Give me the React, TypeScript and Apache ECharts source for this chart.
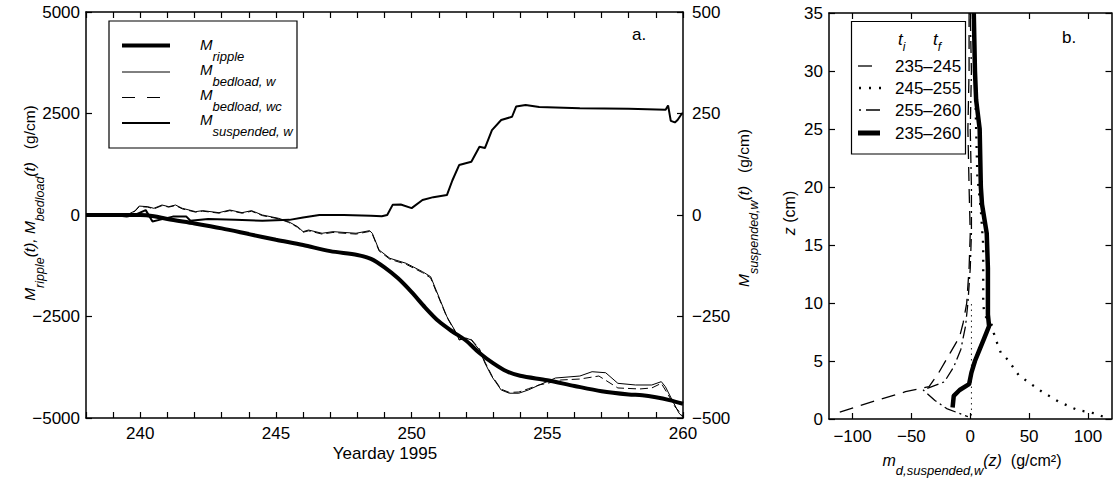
import React, { useEffect, useRef } from "react";
import * as echarts from "echarts";

const FONT = "'Liberation Sans', Arial, Helvetica, sans-serif";

// ---------- Panel a data (Yearday 1995) ----------
const rippleDay = [238, 239, 240, 240.5, 241, 242, 243, 244, 245, 246, 247, 248, 248.5, 249, 249.5, 250, 250.5, 251, 251.5, 252, 252.5, 253, 253.5, 254, 255, 256, 257, 258, 258.5, 259, 259.5, 260];
const rippleVal = [0, 0, 0, -30, -100, -210, -330, -470, -610, -740, -890, -985, -1080, -1290, -1560, -1900, -2280, -2620, -2870, -3090, -3400, -3650, -3850, -3960, -4070, -4210, -4340, -4420, -4440, -4490, -4560, -4650];

const bedWDay = [238, 239.5, 239.8, 239.96, 240.27, 240.5, 240.8, 241.05, 241.3, 241.55, 242.04, 242.3, 242.9, 243.3, 243.75, 244.1, 244.5, 245.1, 245.46, 245.8, 246.0, 246.2, 246.7, 247.1, 247.95, 248.45, 248.55, 248.8, 249.2, 249.8, 250.4, 250.7, 250.9, 251.3, 251.65, 251.75, 252.0, 252.2, 252.5, 252.7, 252.96, 253.3, 253.6, 253.95, 254.3, 254.7, 255.3, 256.2, 256.65, 257.15, 257.6, 258.25, 258.85, 259.2, 259.35, 259.6, 259.85, 260];
const bedWVal = [0, 0, 100, 220, 205, 165, 246, 205, 246, 165, 82, 107, 57, 123, 57, 107, 0, -82, -164, -287, -410, -370, -450, -410, -450, -386, -450, -862, -1067, -1190, -1396, -1519, -1847, -2505, -2910, -3079, -3030, -3079, -3325, -3645, -3983, -4310, -4390, -4390, -4310, -4187, -4015, -3966, -3860, -3885, -4146, -4187, -4187, -4105, -4228, -4557, -4877, -4980];

const bedWCDay = [238, 239.5, 239.8, 239.96, 240.27, 240.5, 240.8, 241.05, 241.3, 241.55, 242.04, 242.3, 242.9, 243.3, 243.75, 244.1, 244.5, 245.1, 245.46, 245.8, 246.0, 246.2, 246.7, 247.1, 247.95, 248.45, 248.55, 248.8, 249.2, 249.8, 250.4, 250.7, 250.9, 251.3, 251.65, 251.75, 252.0, 252.2, 252.5, 252.7, 252.96, 253.3, 253.6, 253.95, 254.3, 254.7, 255.0, 255.5, 256.2, 256.9, 257.6, 258.4, 258.85, 259.2, 259.45, 259.7, 260];
const bedWCVal = [0, 0, 90, 205, 195, 150, 230, 195, 232, 150, 70, 95, 45, 108, 45, 92, -15, -95, -180, -305, -425, -390, -470, -430, -470, -405, -470, -885, -1090, -1215, -1420, -1550, -1880, -2520, -2925, -3070, -3050, -3065, -3300, -3620, -3960, -4290, -4370, -4360, -4280, -4185, -4146, -4064, -4040, -3966, -4260, -4285, -4260, -4146, -4420, -4720, -4950];

const suspDay = [238, 239, 239.5, 239.8, 240.2, 240.45, 240.7, 241.2, 241.7, 241.85, 242.5, 243.5, 244.5, 245.5, 246, 246.6, 247.5, 248.5, 248.9, 249.1, 249.3, 249.6, 250.0, 250.4, 250.8, 251.3, 251.5, 251.75, 252.2, 252.5, 252.7, 252.96, 253.3, 253.7, 253.85, 254.2, 254.7, 256.2, 258, 259.36, 259.45, 259.55, 259.7, 259.8, 259.96, 260];
const suspVal = [0, 0, -4, 0, 12, -16, -12, -4, -4, -14, -10, -12, -14, -12, -6, 0, 0, -2, -3, 0, 25, 26, 17, 37, 44, 49, 85, 123, 131, 168, 165, 209, 234, 242, 267, 271, 266, 263, 262, 259, 270, 232, 228, 234, 250, 250];

const leftTicks = [-5000, -2500, 0, 2500, 5000];
const rightTicks = [-500, -250, 0, 250, 500];
const dayLabels = [240, 245, 250, 255, 260];

// ---------- Panel b data (profiles vs z) ----------
const zTotal = [35, 30, 27.5, 25, 20, 18.5, 16, 13, 9, 8, 7, 6, 5, 4, 3, 2.5, 2, 1];
const mTotal = [3, 4, 5, 8, 9, 10, 14, 15, 15, 16, 12, 8, 4, 1, -1, -9, -14, -15];
const z235 = [35, 30, 25, 20, 16, 13, 10, 8.3, 7.1, 5.7, 3.95, 2.8, 2.35, 1.5, 0.5];
const m235 = [-1, -1, -2, -1, 0, -1, -3, -6, -9, -17, -27, -35, -55, -83, -114];
const z245 = [35, 30, 25, 21, 18, 15, 12, 10, 9, 8, 7.4, 6.5, 5.7, 5.1, 3.8, 3.2, 2.35, 1.5, 0.78, 0.5, 0.2];
const m245 = [3, 4, 5, 6, 9, 11, 11, 11, 12, 19, 20, 23, 26, 32, 41, 49, 61, 75, 91, 105, 113];
const z255 = [35, 30, 25, 20, 16, 13, 10, 8, 6, 4.5, 3.2, 2.5, 1.6, 0.9, 0.2];
const m255 = [0, 1, 0, 1, 1, 0, -2, -4, -8, -14, -22, -40, -30, -20, -2];
const zZero = [0.3, 10];
const mZero = [1, 1];
const bXTicks = [-100, -50, 0, 50, 100];
const legendB = ["235\u2013245", "245\u2013255", "255\u2013260", "235\u2013260"];

const zip = (a: number[], b: number[]) => a.map((v, i) => [v, b[i]]);
const minus = (v: number) => String(v).replace("-", "\u2212");

function rich(mainSize: number, subSize: number, offset: number) {
  const lh = Math.round(mainSize * 1.15);
  return {
    lh,
    styles: {
      m: { fontFamily: FONT, fontSize: mainSize, fontStyle: "italic", lineHeight: lh, verticalAlign: "top", color: "#000" },
      n: { fontFamily: FONT, fontSize: mainSize, lineHeight: lh, verticalAlign: "top", color: "#000" },
      s: { fontFamily: FONT, fontSize: subSize, fontStyle: "italic", lineHeight: lh + 2 * offset, verticalAlign: "middle", color: "#000" },
    },
  };
}

const AX = { color: "#000", width: 1.5 };
const TK = { color: "#000", width: 1.2 };
const LBL = { color: "#000", fontFamily: FONT, fontSize: 17 };

export default function App() {
  const ref = useRef<HTMLDivElement>(null);
  useEffect(() => {
    if (!ref.current) return;
    const chart = echarts.init(ref.current, undefined, { renderer: "svg" });

    const legR = rich(15, 13, 11);
    const titleR = rich(15.5, 12.5, 10);
    const hdrR = rich(17, 12, 6);
    const bTitle = rich(16, 13, 9);

    const legALines = [
      { y: 45.5, w: 4, dash: null },
      { y: 72, w: 1, dash: null },
      { y: 97.5, w: 1, dash: [13, 12] },
      { y: 123, w: 2, dash: null },
    ];
    const legAText = [
      "{m|M}{s|ripple}",
      "{m|M}{s|bedload, w}",
      "{m|M}{s|bedload, wc}",
      "{m|M}{s|suspended, w}",
    ];
    const legAMc = [45, 70, 95, 120];

    const graphic: any[] = [
      { type: "rect", z: 100, shape: { x: 109, y: 21, width: 188, height: 127 }, style: { fill: "#fff", stroke: "#000", lineWidth: 1.2 } },
      ...legALines.map((l) => ({
        type: "line", z: 101,
        shape: { x1: 122, y1: l.y, x2: 170, y2: l.y },
        style: { stroke: "#000", lineWidth: l.w, lineDash: l.dash || undefined },
      })),
      ...legAText.map((t, i) => ({
        type: "text", z: 101, x: 200, y: legAMc[i] - legR.lh / 2,
        style: { text: t, rich: legR.styles, align: "left", verticalAlign: "top", fill: "#000" },
      })),
      { type: "text", z: 101, x: 632, y: 34, style: { text: "a.", font: `17px ${FONT}`, fill: "#000", align: "left", verticalAlign: "middle" } },
      { type: "text", z: 101, x: 1062, y: 37, style: { text: "b.", font: `17px ${FONT}`, fill: "#000", align: "left", verticalAlign: "middle" } },
      // axis titles
      {
        type: "text", z: 101, x: 30 - titleR.lh / 2, y: 203, rotation: Math.PI / 2,
        style: { text: "{m|M}{s|ripple}{m|(t), M}{s|bedload}{m|(t)}{n|   (g/cm)}", rich: titleR.styles, align: "center", verticalAlign: "top" },
      },
      {
        type: "text", z: 101, x: 744 - titleR.lh / 2, y: 208, rotation: Math.PI / 2,
        style: { text: "{m|M}{s|suspended,w}{m|(t)}{n|   (g/cm)}", rich: titleR.styles, align: "center", verticalAlign: "top" },
      },
      { type: "text", z: 101, x: 385, y: 453, style: { text: "Yearday 1995", font: `17px ${FONT}`, fill: "#000", align: "center", verticalAlign: "middle" } },
      {
        type: "text", z: 101, x: 790, y: 213, rotation: Math.PI / 2,
        style: { text: "{m|z}{n| (cm)}", rich: bTitle.styles, align: "center", verticalAlign: "middle" },
      },
      {
        type: "text", z: 101, x: 972, y: 461 - bTitle.lh / 2,
        style: { text: "{m|m}{s|d,suspended,w}{m|(z)}{n|  (g/cm\u00b2)}", rich: bTitle.styles, align: "center", verticalAlign: "top" },
      },
      // legend b
      { type: "rect", z: 100, shape: { x: 851.5, y: 21.5, width: 114, height: 132.5 }, style: { fill: "#fff", stroke: "#000", lineWidth: 1.2 } },
      { type: "text", z: 101, x: 898, y: 41 - hdrR.lh / 2, style: { text: "{m|t}{s|i}", rich: hdrR.styles, align: "left", verticalAlign: "top" } },
      { type: "text", z: 101, x: 933, y: 41 - hdrR.lh / 2, style: { text: "{m|t}{s|f}", rich: hdrR.styles, align: "left", verticalAlign: "top" } },
      { type: "line", z: 101, shape: { x1: 858, y1: 66, x2: 872, y2: 66 }, style: { stroke: "#000", lineWidth: 1.3 } },
      { type: "line", z: 101, shape: { x1: 859, y1: 88, x2: 882, y2: 88 }, style: { stroke: "#000", lineWidth: 2.5, lineDash: [2, 8] } },
      { type: "line", z: 101, shape: { x1: 859, y1: 110, x2: 881, y2: 110 }, style: { stroke: "#000", lineWidth: 1.3, lineDash: [2, 5, 14, 100] } },
      { type: "line", z: 101, shape: { x1: 858, y1: 133, x2: 880, y2: 133 }, style: { stroke: "#000", lineWidth: 5 } },
      ...legendB.map((t, i) => ({
        type: "text", z: 101, x: 895, y: [66, 88, 110, 133][i],
        style: { text: t, font: `17px ${FONT}`, fill: "#000", align: "left", verticalAlign: "middle" },
      })),
    ];

    const frame = (o: any) => ({
      type: "value",
      splitLine: { show: false },
      axisLine: { show: true, onZero: false, lineStyle: AX },
      ...o,
    });

    const option: any = {
      animation: false,
      backgroundColor: "#fff",
      grid: [
        { left: 86, right: 430, top: 12, bottom: 63, outerBoundsMode: "none" },
        { left: 829, right: 1.5, top: 13, bottom: 62, outerBoundsMode: "none" },
      ],
      xAxis: [
        frame({
          gridIndex: 0, position: "bottom", min: 238, max: 260, interval: 1,
          axisTick: { show: true, inside: true, length: 6, lineStyle: TK },
          axisLabel: { ...LBL, margin: 7, formatter: (v: number) => (dayLabels.includes(v) ? String(v) : "") },
        }),
        frame({
          gridIndex: 0, position: "top", min: 238, max: 260, interval: 1,
          axisTick: { show: true, inside: true, length: 6, lineStyle: TK },
          axisLabel: { show: false },
        }),
        frame({
          gridIndex: 1, position: "bottom", min: -120, max: 120,
          axisTick: { show: true, inside: true, length: 6, lineStyle: TK, customValues: bXTicks },
          axisLabel: { ...LBL, margin: 9, customValues: bXTicks, formatter: minus },
        }),
        frame({
          gridIndex: 1, position: "top", min: -120, max: 120,
          axisTick: { show: true, inside: true, length: 6, lineStyle: TK, customValues: bXTicks },
          axisLabel: { show: false, customValues: bXTicks },
        }),
      ],
      yAxis: [
        frame({
          gridIndex: 0, position: "left", min: leftTicks[0], max: leftTicks[4], interval: 2500,
          axisTick: { show: true, inside: true, length: 6, lineStyle: TK },
          axisLabel: { ...LBL, margin: 6, formatter: minus },
        }),
        frame({
          gridIndex: 0, position: "right", min: rightTicks[0], max: rightTicks[4], interval: 250,
          axisTick: { show: true, inside: true, length: 6, lineStyle: TK },
          axisLabel: { ...LBL, margin: 9, formatter: minus },
        }),
        frame({
          gridIndex: 1, position: "left", min: 0, max: 35, interval: 5,
          axisTick: { show: true, inside: true, length: 6, lineStyle: TK },
          axisLabel: { ...LBL, margin: 6 },
        }),
        frame({
          gridIndex: 1, position: "right", min: 0, max: 35, interval: 5,
          axisTick: { show: true, inside: true, length: 6, lineStyle: TK },
          axisLabel: { show: false },
        }),
      ],
      series: [
        { name: "Msuspended,w", type: "line", xAxisIndex: 0, yAxisIndex: 1, data: zip(suspDay, suspVal), symbol: "none", lineStyle: { color: "#000", width: 2 } },
        { name: "Mbedload,wc", type: "line", xAxisIndex: 0, yAxisIndex: 0, data: zip(bedWCDay, bedWCVal), symbol: "none", lineStyle: { color: "#000", width: 1, type: [8, 4] } },
        { name: "Mbedload,w", type: "line", xAxisIndex: 0, yAxisIndex: 0, data: zip(bedWDay, bedWVal), symbol: "none", lineStyle: { color: "#000", width: 1 } },
        { name: "Mripple", type: "line", xAxisIndex: 0, yAxisIndex: 0, data: zip(rippleDay, rippleVal), symbol: "none", smooth: 0.3, lineStyle: { color: "#000", width: 4 } },
        { name: "zero", type: "line", xAxisIndex: 2, yAxisIndex: 2, data: zip(mZero, zZero), symbol: "none", lineStyle: { color: "#222", width: 1, type: [1.5, 4] } },
        { name: "235-245", type: "line", xAxisIndex: 2, yAxisIndex: 2, data: zip(m235, z235), symbol: "none", lineStyle: { color: "#000", width: 1.3, type: [14, 8] } },
        { name: "245-255", type: "line", xAxisIndex: 2, yAxisIndex: 2, data: zip(m245, z245), symbol: "none", lineStyle: { color: "#000", width: 2.3, type: [2, 7.5] } },
        { name: "255-260", type: "line", xAxisIndex: 2, yAxisIndex: 2, data: zip(m255, z255), symbol: "none", lineStyle: { color: "#000", width: 1.3, type: [2, 4, 12, 4] } },
        { name: "235-260", type: "line", xAxisIndex: 2, yAxisIndex: 2, data: zip(mTotal, zTotal), symbol: "none", lineStyle: { color: "#000", width: 4.5 } },
      ],
      graphic,
    };
    chart.setOption(option);
    return () => chart.dispose();
  }, []);
  return <div ref={ref} style={{ position: "fixed", left: 0, top: 0, width: 1113, height: 481, background: "#fff" }} />;
}
